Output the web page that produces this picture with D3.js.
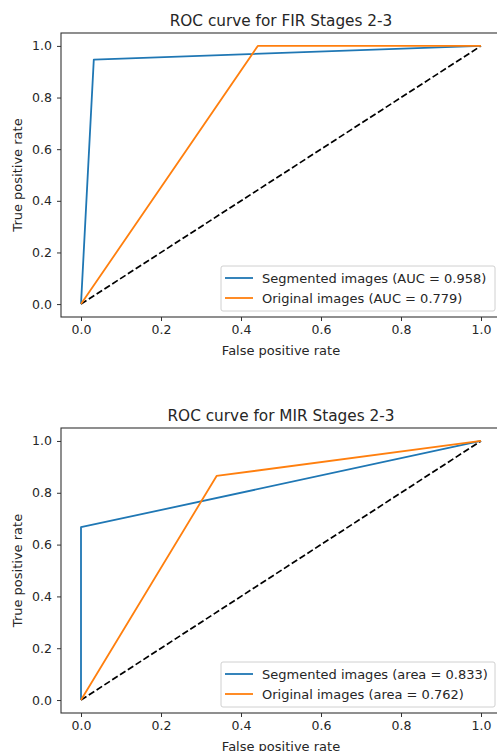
<!DOCTYPE html>
<html>
<head>
<meta charset="utf-8">
<script src="https://cdn.jsdelivr.net/npm/d3@7"></script>
<style>
  body { margin: 0; background: #fff; }
  text { font-family: "DejaVu Sans", sans-serif; fill: #262626; }
</style>
</head>
<body>
<div id="chart-area"></div>
<script>
// ROC points, one array per curve
var firSegFpr = [0, 0.032, 1],  firSegTpr = [0, 0.947, 1];
var firOrigFpr = [0, 0.442, 1], firOrigTpr = [0, 1.0, 1];
var mirSegFpr = [0, 0, 1],      mirSegTpr = [0, 0.667, 1];
var mirOrigFpr = [0, 0.339, 1], mirOrigTpr = [0, 0.865, 1];
var chanceLine = [0, 1];

var titles = ["ROC curve for FIR Stages 2-3", "ROC curve for MIR Stages 2-3"];
var legendLabels = [
    ["Segmented images (AUC = 0.958)", "Original images (AUC = 0.779)"],
    ["Segmented images (area = 0.833)", "Original images (area = 0.762)"]
];
var tickValues = [0, 0.2, 0.4, 0.6, 0.8, 1.0];

var blue = "#1f77b4", orange = "#ff7f0e";

var svg = d3.select("#chart-area")
    .append("svg")
        .attr("width", 497)
        .attr("height", 751);

// panel boxes (top and bottom of each axes area)
var panels = [
    { top: 33, bottom: 317, seg: [firSegFpr, firSegTpr], orig: [firOrigFpr, firOrigTpr] },
    { top: 428, bottom: 713, seg: [mirSegFpr, mirSegTpr], orig: [mirOrigFpr, mirOrigTpr] }
];

panels.forEach(function(p, i) {
    var left = 61, right = 501;

    var x = d3.scaleLinear().domain([-0.05, 1.05]).range([left, right]);
    var y = d3.scaleLinear().domain([-0.05, 1.05]).range([p.bottom, p.top]);

    var g = svg.append("g");

    // Clip to plot area
    var clipId = "clip" + i;
    svg.append("clipPath").attr("id", clipId)
        .append("rect")
        .attr("x", left).attr("y", p.top)
        .attr("width", right - left).attr("height", p.bottom - p.top);

    var line = d3.line()
        .x(function(d){ return x(d[0]); })
        .y(function(d){ return y(d[1]); });

    var plot = g.append("g").attr("clip-path", "url(#" + clipId + ")");

    plot.append("path")
        .datum(chanceLine.map(function(v){ return [v, v]; }))
        .attr("d", line)
        .attr("fill", "none")
        .attr("stroke", "#000")
        .attr("stroke-width", 1.7)
        .attr("stroke-dasharray", "6.5,2.8");

    [[p.seg, blue], [p.orig, orange]].forEach(function(s) {
        var pts = s[0][0].map(function(v, k){ return [v, s[0][1][k]]; });
        plot.append("path")
            .datum(pts)
            .attr("d", line)
            .attr("fill", "none")
            .attr("stroke", s[1])
            .attr("stroke-width", 1.8)
            .attr("stroke-linejoin", "round");
    });

    // X Axis
    var xAxis = g.append("g")
        .attr("transform", "translate(0," + p.bottom + ")")
        .call(d3.axisBottom(x).tickValues(tickValues).tickFormat(d3.format(".1f"))
            .tickSize(4).tickPadding(4));

    // Y Axis
    var yAxis = g.append("g")
        .attr("transform", "translate(" + left + ",0)")
        .call(d3.axisLeft(y).tickValues(tickValues).tickFormat(d3.format(".1f"))
            .tickSize(4).tickPadding(5));

    [xAxis, yAxis].forEach(function(a) {
        a.select(".domain").remove();
        a.selectAll("line").attr("stroke", "#333").attr("stroke-width", 1);
        a.selectAll("text").attr("font-size", "12.5px").attr("fill", "#262626")
            .attr("font-family", "DejaVu Sans, sans-serif");
    });

    // Spines
    g.append("rect")
        .attr("x", left).attr("y", p.top)
        .attr("width", right - left).attr("height", p.bottom - p.top)
        .attr("fill", "none")
        .attr("stroke", "#333")
        .attr("stroke-width", 1.1);

    // Title
    g.append("text")
        .attr("x", (left + right) / 2)
        .attr("y", p.top - 7)
        .attr("text-anchor", "middle")
        .attr("font-size", "15.3px")
        .text(titles[i]);

    // X Label
    g.append("text")
        .attr("x", (left + right) / 2)
        .attr("y", p.bottom + 37.5)
        .attr("text-anchor", "middle")
        .attr("font-size", "13px")
        .text("False positive rate");

    // Y Label
    g.append("text")
        .attr("transform", "translate(22," + ((p.top + p.bottom) / 2) + ") rotate(-90)")
        .attr("text-anchor", "middle")
        .attr("font-size", "13px")
        .text("True positive rate");

    // Legend
    var lg = g.append("g").attr("transform", "translate(221," + (p.bottom - 51) + ")");
    lg.append("rect")
        .attr("width", 274).attr("height", 45)
        .attr("rx", 2)
        .attr("fill", "#fff").attr("fill-opacity", 0.8)
        .attr("stroke", "#d0d0d0");
    [blue, orange].forEach(function(c, k) {
        var ly = 12 + k * 20;
        lg.append("line")
            .attr("x1", 4).attr("x2", 32)
            .attr("y1", ly).attr("y2", ly)
            .attr("stroke", c).attr("stroke-width", 1.8);
        lg.append("text")
            .attr("x", 41).attr("y", ly + 5)
            .attr("font-size", "13px")
            .text(legendLabels[i][k]);
    });
});
</script>
</body>
</html>
